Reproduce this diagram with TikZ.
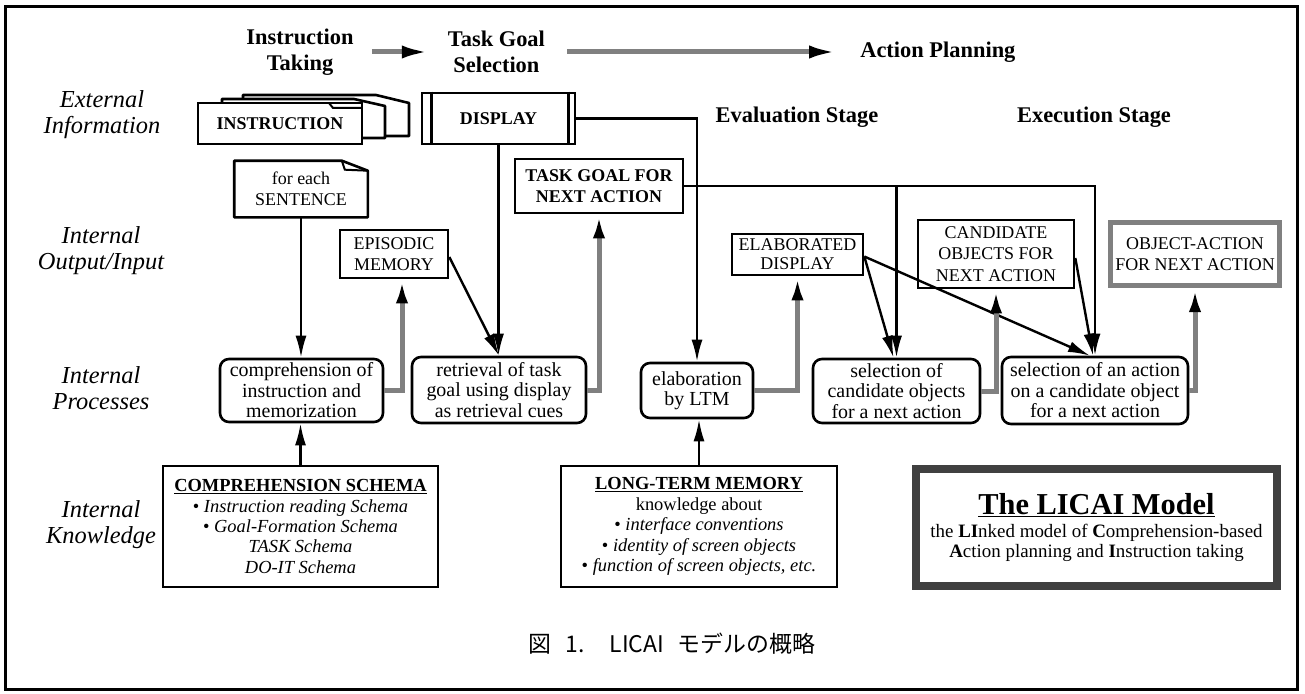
\documentclass[tikz,border=0pt]{standalone}
\usepackage{fontspec}
\setmainfont{Liberation Serif}[
  UprightFont = {Liberation Serif},
  BoldFont = {Liberation Serif Bold},
  ItalicFont = {Liberation Serif Italic},
  BoldItalicFont = {Liberation Serif Bold Italic}]
\newfontfamily\cjk{Noto Sans CJK JP}
\usetikzlibrary{arrows.meta,positioning}
\newcommand\hdrfont{\fontsize{22.5}{26}\selectfont\bfseries}
\newcommand\lblfont{\fontsize{24.5}{26}\selectfont\itshape}
\newcommand\capfont{\fontsize{18}{21.5}\selectfont}
\newcommand\procfont{\fontsize{20}{20.5}\selectfont}
\newcommand\kbfont{\fontsize{18.5}{20.5}\selectfont}
\tikzset{
  box/.style   = {draw, line width=2.6bp, fill=white, align=center, inner sep=1bp, font=\capfont},
  proc/.style  = {box, rounded corners=9bp, font=\procfont},
  sz/.style 2 args = {minimum width=#1, minimum height=#2},
  hdr/.style   = {font=\hdrfont, align=center, inner sep=0pt},
  lbl/.style   = {font=\lblfont, align=center},
  sheet/.style = {draw, line width=2.6bp, line join=round},
  line/.style  = {-{Latex[length=22bp,width=11bp]}, line width=2.4bp},
  feed/.style  = {-{Latex[length=24bp,width=12bp,color=black]}, line width=5bp, draw=gray},
}

\begin{document}
\begin{tikzpicture}[x=1bp,y=-1bp]
    \useasboundingbox (0,0) rectangle (1305,693);
    \draw[line width=3bp] (5,7) rectangle (1297,689);

    % stages
    \node[hdr] (hdrIT) at (300,52) {Instruction\\Taking};
    \node[hdr, right=94bp of hdrIT] (hdrTG) {Task Goal\\Selection};
    \node[hdr, right=315bp of hdrTG] (hdrAP) {Action Planning};
    \node[hdr] (evalSt) at (797,117) {Evaluation Stage};
    \node[hdr] (execSt) at (1094,117) {Execution Stage};
    \draw[feed, -{Latex[length=28bp,width=13bp,color=black]}] ([xshift=18bp]hdrIT.east) -- ([xshift=-18bp]hdrTG.west);
    \draw[feed, -{Latex[length=28bp,width=13bp,color=black]}] ([xshift=22bp]hdrTG.east) -- ([xshift=-23bp]hdrAP.west);

    % levels
    \node[lbl] (lExt) at (102,115) {External\\Information};
    \node[lbl] (lIO) at (101,251) {Internal\\Output/Input};
    \node[lbl] (lProc) at (101,388) {Internal\\Processes};
    \node[lbl] (lKnow) at (101,525) {Internal\\Knowledge};

    % external information
    \draw[sheet, fill=white] (243,136) -- (243,95) -- (376,95) -- (409,103) -- (409,136) -- cycle;
    \draw[sheet, fill=white] (222,138) -- (222,99) -- (354,99) -- (385,106) -- (385,138) -- cycle;
    \node[box, sz={164bp}{41bp}, font=\capfont\bfseries] (instr) at (280,123.5) {INSTRUCTION};
    \draw[line width=2bp] (329,103) -- (333,108) -- (362,108);
    \node[box, sz={153bp}{51bp}, font=\capfont\bfseries] (disp) at (498.5,118.5) {DISPLAY};
    \draw[line width=2.6bp] ([xshift=11bp]disp.north west) -- ([xshift=11bp]disp.south west);
    \draw[line width=2.6bp] ([xshift=-8bp]disp.north east) -- ([xshift=-8bp]disp.south east);

    % internal output/input
    \node[box, draw=none, fill=none, sz={131bp}{54bp}] (note) at (301,189) {for each\\SENTENCE};
    \draw[sheet] (note.south west) -- (note.north west) -- ([xshift=-26bp]note.north east)
      -- ([yshift=-10bp]note.north east) -- (note.south east) -- cycle;
    \draw[line width=2bp] ([xshift=-26bp]note.north east) -- ([xshift=-23bp,yshift=-9bp]note.north east) -- ([yshift=-10bp]note.north east);
    \node[box, sz={168bp}{54bp}, font=\capfont\bfseries] (goal) at (599,186) {TASK GOAL FOR\\NEXT ACTION};
    \node[box, sz={108bp}{48bp}] (epi) at (394,254) {EPISODIC\\MEMORY};
    \node[box, sz={131bp}{41bp}, inner sep=0pt, font=\fontsize{18}{19}\selectfont] (elabD) at (797.5,254.5) {ELABORATED\\DISPLAY};
    \node[box, sz={156bp}{68bp}] (cand) at (996,254) {CANDIDATE\\OBJECTS FOR\\NEXT ACTION};
    \node[box, draw=gray, line width=5bp, sz={169bp}{63bp}] (objAct) at (1195,254) {OBJECT-ACTION\\FOR NEXT ACTION};

    % internal processes
    \node[proc, sz={163bp}{63bp}] (comp) at (301.5,390.5) {comprehension of\\instruction and\\memorization};
    \node[proc, sz={174bp}{66bp}] (retr) at (499,390) {retrieval of task\\goal using display\\as retrieval cues};
    \node[proc, sz={112bp}{55bp}] (elab) at (697,390.5) {elaboration\\by LTM};
    \node[proc, sz={167bp}{64bp}] (selC) at (896.5,391) {selection of\\candidate objects\\for a next action};
    \node[proc, sz={186bp}{67bp}] (selA) at (1095,390.5) {selection of an action\\on a candidate object\\for a next action};

    % internal knowledge
    \node[box, sz={275bp}{121bp}, font=\kbfont] (cs) at (300.5,526.5)
      {\textbf{\underline{COMPREHENSION SCHEMA}}\\ • \textit{Instruction reading Schema}\\
       • \textit{Goal-Formation Schema}\\ \textit{TASK Schema}\\ \textit{DO-IT Schema}};
    \node[box, sz={276bp}{121bp}, font=\kbfont] (ltm) at (699,526.5)
      {\textbf{\underline{LONG-TERM MEMORY}}\\ knowledge about\\ • \textit{interface conventions}\\
       • \textit{identity of screen objects}\\ • \textit{function of screen objects, etc.}};
    \node[box, draw=black!75, line width=8bp, sz={361bp}{117bp}, font=\fontsize{19}{20.5}\selectfont] (licai) at (1096.5,527.5)
      {{\fontsize{30.5}{34}\selectfont\bfseries\underline{The LICAI Model}}\\[2bp]
       the \textbf{LI}nked model of \textbf{C}omprehension-based\\
       \textbf{A}ction planning and \textbf{I}nstruction taking};

    \node[font=\cjk\fontsize{23}{26}\selectfont] (cap) at (672,644) {図\hspace{0.6em}1.\hspace{1.1em}LICAI\hspace{0.6em}モデルの概略};

    % connectors
    \draw[line] (note.south) -- (note.south |- comp.north);
    \draw[line] (cs.north) -- (cs.north |- comp.south);
    \draw[feed] (comp.east) -| ([xshift=8bp]epi.south);
    \draw[line] ([yshift=-3bp]epi.east) -- (retr.north);
    \draw[line] (disp.south) -- (disp.south |- retr.north);
    \draw[feed] (retr.east) -| (goal.south);
    \draw[line] (disp.east) -| (elab.north);
    \draw[line] (ltm.north) -- (ltm.north |- elab.south);
    \draw[feed] (elab.east) -| (elabD.south);
    \draw[line] (goal.east) -| (selA.north);
    \draw[line] (goal.east -| selC.north) -- (selC.north);
    \draw[line] ([yshift=-2bp]elabD.east) -- ([xshift=-3bp]selC.north);
    \draw[line] ([yshift=-2bp]elabD.east) -- ([xshift=-5bp]selA.north);
    \draw[line] ([yshift=-4bp]cand.east) -- ([xshift=-2bp]selA.north);
    \draw[feed] (selC.east) -| (cand.south);
    \draw[feed] (selA.east) -| (objAct.south);
  \end{tikzpicture}
\end{document}
